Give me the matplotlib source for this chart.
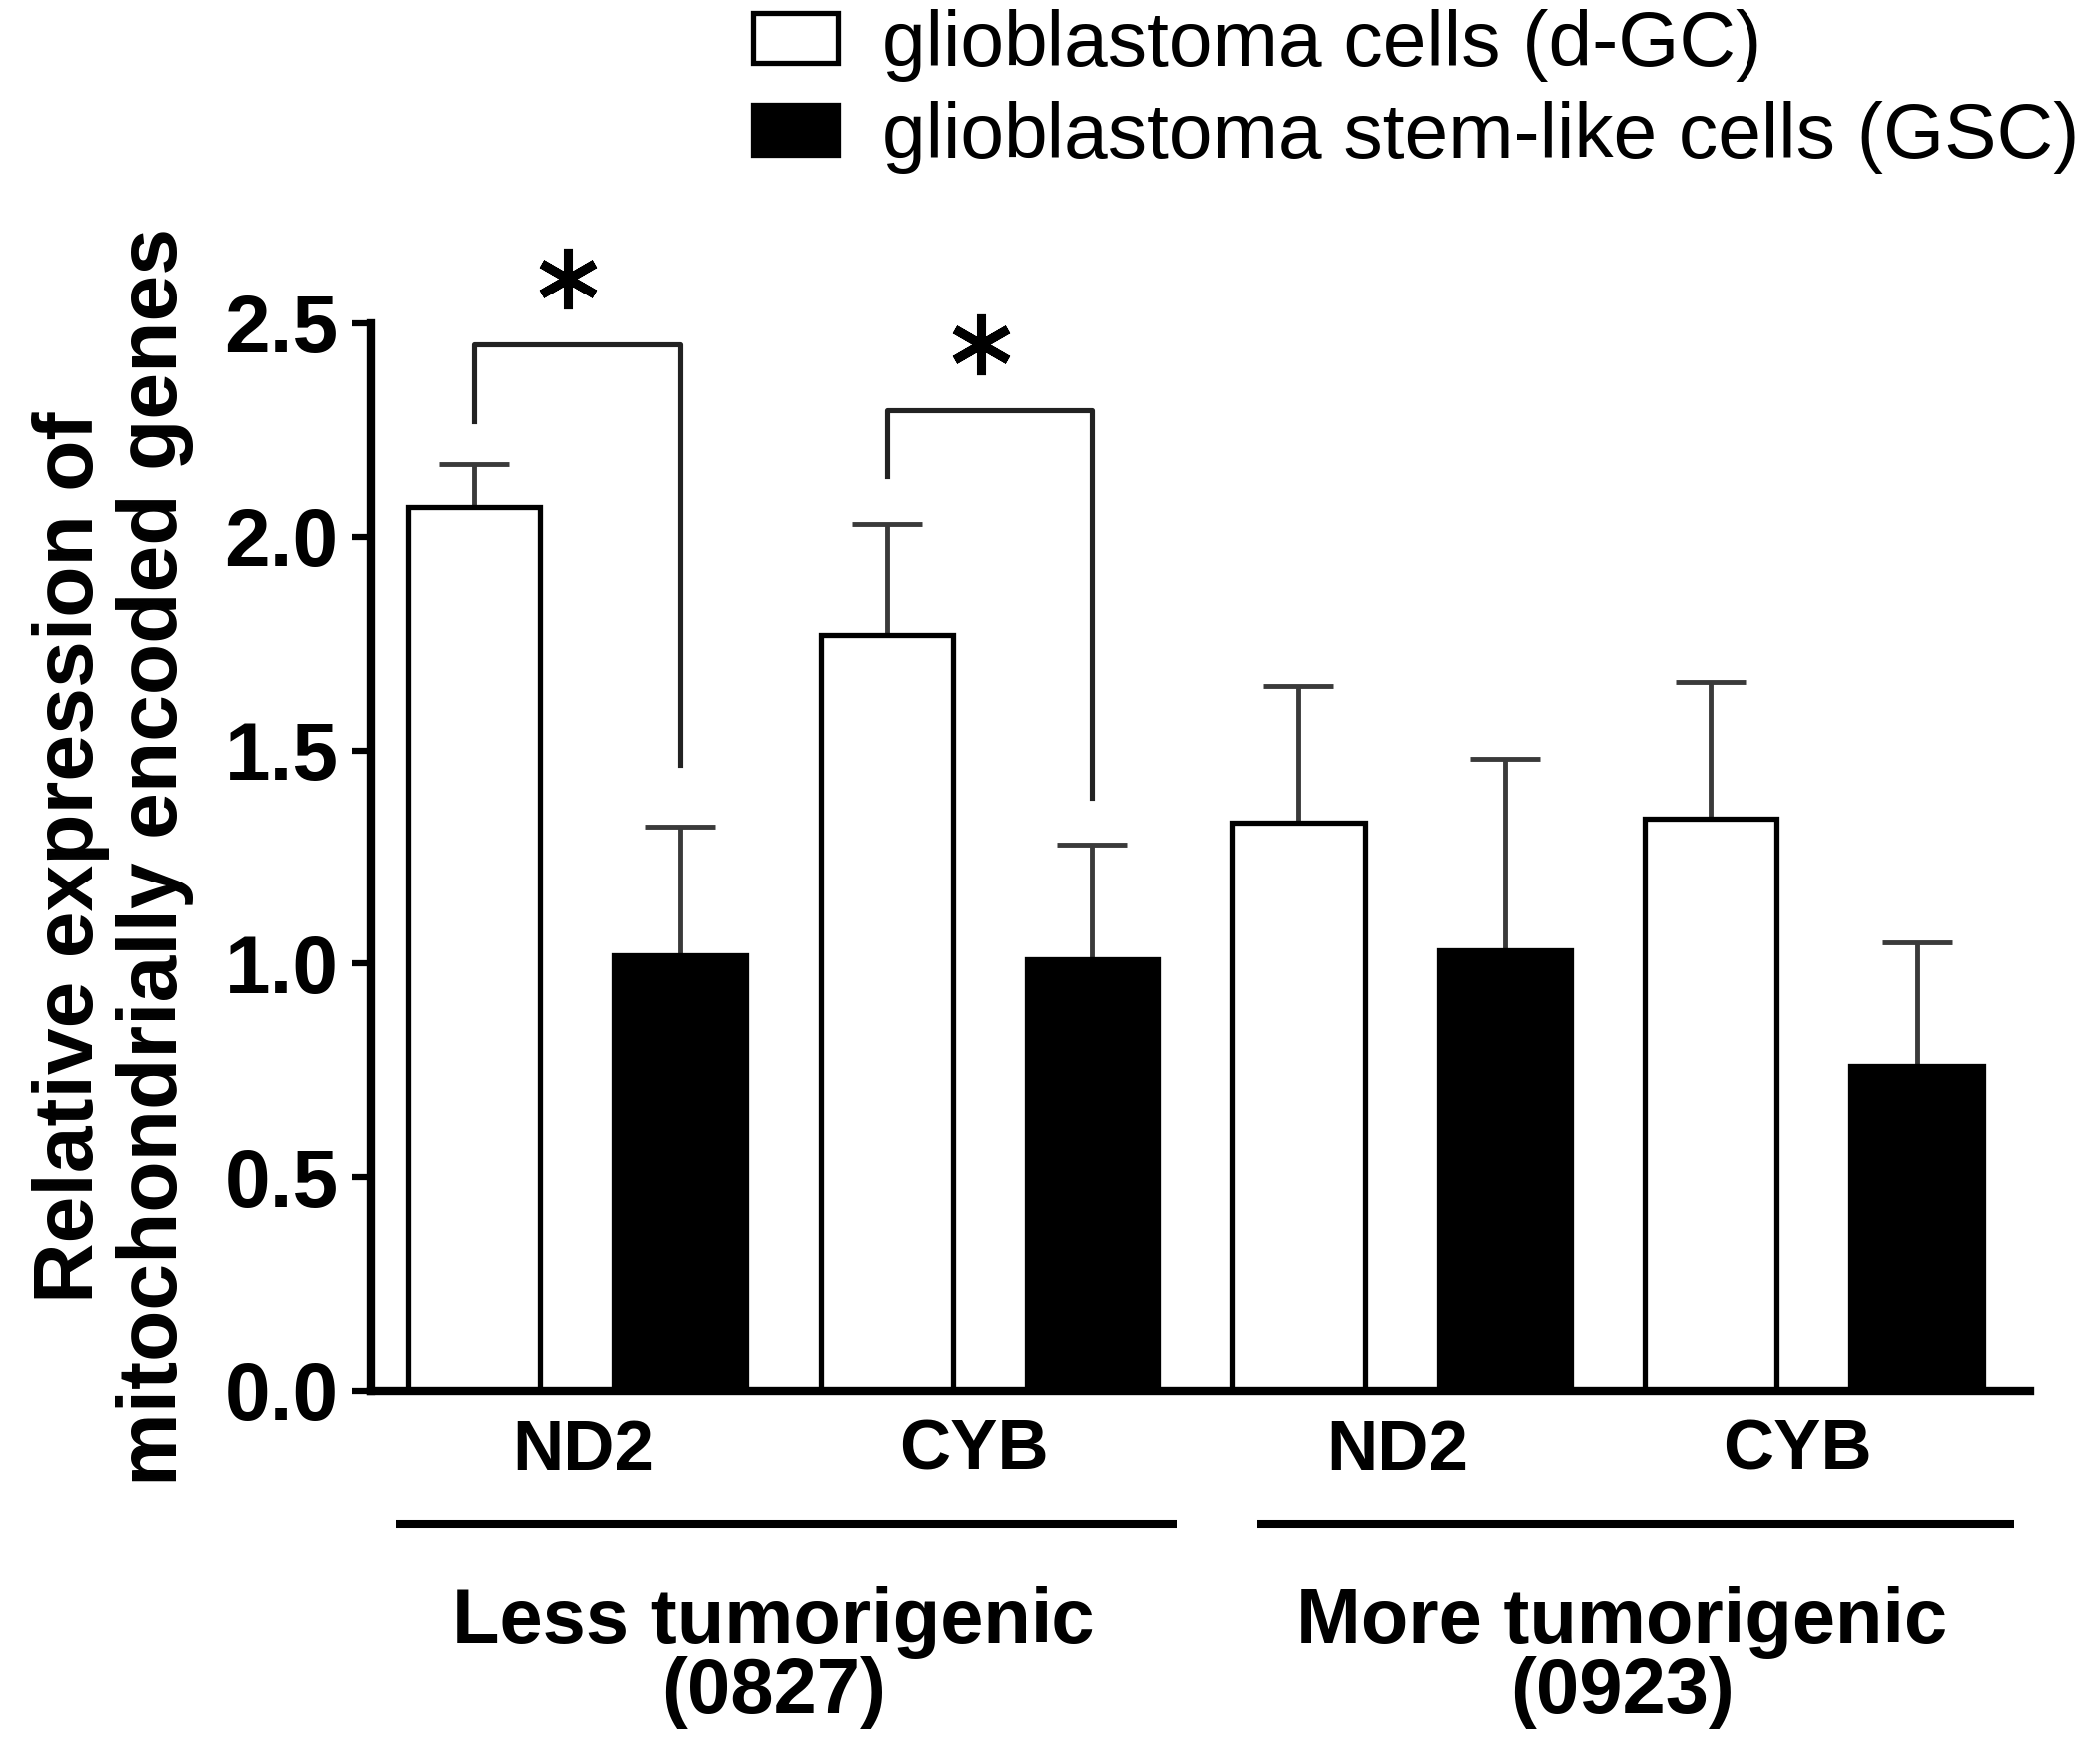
import matplotlib
matplotlib.use('Agg')
import matplotlib.pyplot as plt
import numpy as np

plt.rcParams['font.family'] = ['Liberation Sans', 'DejaVu Sans']

# data
genes = ['ND2', 'CYB', 'ND2', 'CYB']
dgc = [2.07, 1.77, 1.33, 1.34]
dgc_err = [0.10, 0.26, 0.32, 0.32]
gsc = [1.02, 1.01, 1.03, 0.76]
gsc_err = [0.30, 0.27, 0.45, 0.29]
groups = ['Less tumorigenic\n(0827)', 'More tumorigenic\n(0923)']
legend_labels = ['glioblastoma cells (d-GC)', 'glioblastoma stem-like cells (GSC)']

fig = plt.figure(figsize=(21, 17.67), dpi=100)
ax = fig.add_axes([0.1771, 0.2117, 0.7910, 0.6050])

x_dgc = np.arange(len(genes)) * 2
x_gsc = x_dgc + 1
w = 0.64

b1 = ax.bar(x_dgc, dgc, w, color='white', edgecolor='black', linewidth=3.8, zorder=2)
b2 = ax.bar(x_gsc, gsc, w, color='black', edgecolor='black', linewidth=3.8, zorder=2)
ax.errorbar(x_dgc, dgc, yerr=[np.zeros(4), dgc_err], fmt='none', ecolor='#3a3a3a',
            elinewidth=3.5, capsize=25, capthick=3.5, zorder=1)
ax.errorbar(x_gsc, gsc, yerr=[np.zeros(4), gsc_err], fmt='none', ecolor='#3a3a3a',
            elinewidth=3.5, capsize=25, capthick=3.5, zorder=1)

ax.set_xlim(-0.5, 7.55)
ax.set_ylim(0, 2.5)
ax.set_yticks([0, 0.5, 1.0, 1.5, 2.0, 2.5])
ax.set_yticklabels(['0.0', '0.5', '1.0', '1.5', '2.0', '2.5'], fontweight='bold', fontsize=59)
# labels sit a little off the pair centres in the original
ax.set_xticks((x_dgc + x_gsc) / 2 + np.array([0.03, -0.08, -0.02, -0.08]))
ax.set_xticklabels(genes, fontweight='bold', fontsize=51)
ax.tick_params(axis='x', length=0, pad=20)
ax.tick_params(axis='y', length=14, width=4.5, pad=10)
for s in ['top', 'right']:
    ax.spines[s].set_visible(False)
ax.spines['left'].set_linewidth(6)
ax.spines['bottom'].set_linewidth(6)

ax.set_ylabel('Relative expression of\nmitochondrially encoded genes', fontweight='bold',
              fontsize=60.5, labelpad=22, linespacing=1.1)

# significance brackets
brackets = [(0, 1, 2.45, 2.27, 1.466), (2, 3, 2.296, 2.143, 1.39)]
for xa, xb, top, lb, rb in brackets:
    ax.plot([xa, xa, xb, xb], [lb, top, top, rb], color='#222222', lw=3.7,
            clip_on=False, zorder=3)
    ax.plot((xa + xb) / 2 - 0.045, top + 0.155, marker=(6, 2, 0), markersize=44,
            mew=6.5, color='black', clip_on=False)

# group lines and labels
tr = ax.get_xaxis_transform()
ax.plot([-0.377, 3.41], [-0.125, -0.125], color='black', lw=5.8, transform=tr,
        clip_on=False, solid_capstyle='butt')
ax.plot([3.80, 7.47], [-0.125, -0.125], color='black', lw=5.8, transform=tr,
        clip_on=False, solid_capstyle='butt')
ax.text(1.45, -0.25, groups[0], transform=tr, ha='center', va='center',
        fontsize=56, fontweight='bold', linespacing=0.95)
ax.text(5.57, -0.25, groups[1], transform=tr, ha='center', va='center',
        fontsize=56, fontweight='bold', linespacing=0.95)

ax.legend([b1, b2], legend_labels, loc='upper left', bbox_to_anchor=(0.359, 0.995),
          bbox_transform=fig.transFigure, frameon=False, fontsize=56.5, borderpad=0,
          borderaxespad=0, handlelength=1.09, handleheight=0.61, handletextpad=0.55,
          labelspacing=0.24)

fig.savefig('out.png', dpi=100)
